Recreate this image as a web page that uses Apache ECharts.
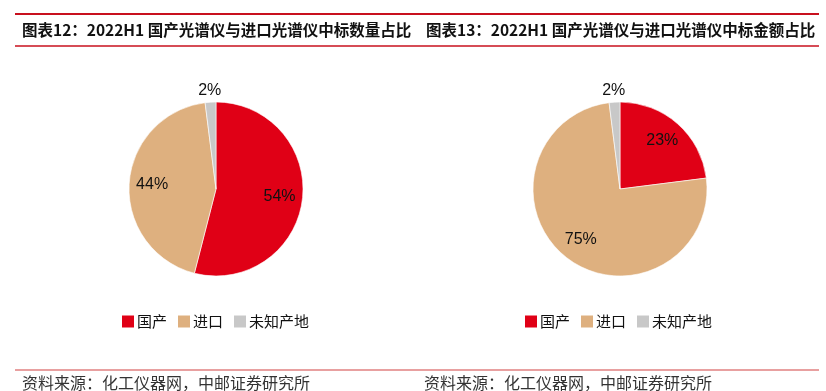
<!DOCTYPE html>
<html>
<head>
<meta charset="utf-8">
<script src="https://cdn.jsdelivr.net/npm/echarts@6/dist/echarts.min.js"></script>
<style>
  html, body { margin:0; padding:0; background:#fff; }
  #chart { width:826px; height:391px; }
</style>
</head>
<body>
<div id="chart"></div>
<script>
(function(){
  // chart data
  const names = ['国产', '进口', '未知产地'];
  const countShare = [54, 44, 2];   // 图表12 中标数量占比 (%)
  const amountShare = [23, 75, 2];  // 图表13 中标金额占比 (%)
  const titles = [
    '图表12：2022H1 国产光谱仪与进口光谱仪中标数量占比',
    '图表13：2022H1 国产光谱仪与进口光谱仪中标金额占比'
  ];
  const sourceText = '资料来源：化工仪器网，中邮证券研究所';

  const palette = ['#E00016', '#DEB07F', '#C8C8C8'];
  const R = 87;
  const CJK = '"Noto Sans CJK SC", sans-serif';
  const LATIN = '"Liberation Sans", Arial, sans-serif';

  const chart = echarts.init(document.getElementById('chart'), null, {renderer:'canvas'});

  // visible = false -> slice only carries a label, no fill
  function pieData(values, visible, labelFilter) {
    return values.map((v, i) => ({
      name: names[i],
      value: v,
      itemStyle: {color: visible ? palette[i] : 'rgba(0,0,0,0)'},
      label: {show: labelFilter(v)}
    }));
  }

  function pieSeries(values, cx) {
    const common = {
      type: 'pie',
      center: [cx, 189],
      startAngle: 90,
      clockwise: true,
      animation: false,
      labelLine: {show: false},
      emphasis: {disabled: true}
    };
    const lbl = {position: 'inside', formatter: '{c}%', color: '#111', fontSize: 16, fontFamily: LATIN};
    return [
      // the solid pie
      Object.assign({}, common, {
        radius: R,
        data: pieData(values, true, () => false),
        itemStyle: {borderColor: '#fff', borderWidth: 0.6}
      }),
      // label ring for big slices (label at ~0.7 r)
      Object.assign({}, common, {
        radius: [35, R],
        silent: true,
        legendHoverLink: false,
        label: lbl,
        data: pieData(values, false, v => v > 5)
      }),
      // label ring outside for small slices
      Object.assign({}, common, {
        radius: [R, 105],
        silent: true,
        legendHoverLink: false,
        label: lbl,
        data: pieData(values, false, v => v <= 5)
      })
    ];
  }

  const legendCommon = {
    top: 314,
    padding: 0,
    itemWidth: 12,
    itemHeight: 12,
    itemGap: 11,
    icon: 'rect',
    selectedMode: false,
    data: names,
    itemStyle: {borderWidth: 0},
    textStyle: {fontSize: 15, color: '#111', fontFamily: CJK, padding: [0, 0, 0, -2]}
  };

  const titleStyle = {fontSize: 15.5, fontWeight: 'bold', color: '#111', fontFamily: CJK};

  const option = {
    backgroundColor: '#fff',
    animation: false,
    title: [
      {text: titles[0], left: 22, top: 22, padding: 0, textStyle: titleStyle},
      {text: titles[1], left: 426, top: 22, padding: 0, textStyle: titleStyle}
    ],
    legend: [
      Object.assign({}, legendCommon, {left: 122}),
      Object.assign({}, legendCommon, {left: 525})
    ],
    graphic: [
      {type: 'line', shape: {x1: 15, y1: 14, x2: 819, y2: 14}, style: {stroke: '#C8101E', lineWidth: 2}},
      {type: 'line', shape: {x1: 15, y1: 46, x2: 819, y2: 46}, style: {stroke: '#C8101E', lineWidth: 1.5}},
      {type: 'line', shape: {x1: 15, y1: 370, x2: 819, y2: 370}, style: {stroke: '#E8A0A0', lineWidth: 2}},
      {type: 'text', left: 22, top: 375, style: {text: sourceText, fontSize: 16, fill: '#333', fontFamily: CJK}},
      {type: 'text', left: 424, top: 375, style: {text: sourceText, fontSize: 16, fill: '#333', fontFamily: CJK}}
    ],
    series: [].concat(pieSeries(countShare, 216), pieSeries(amountShare, 620))
  };

  chart.setOption(option);
  window.addEventListener('resize', () => chart.resize());
})();
</script>
</body>
</html>
